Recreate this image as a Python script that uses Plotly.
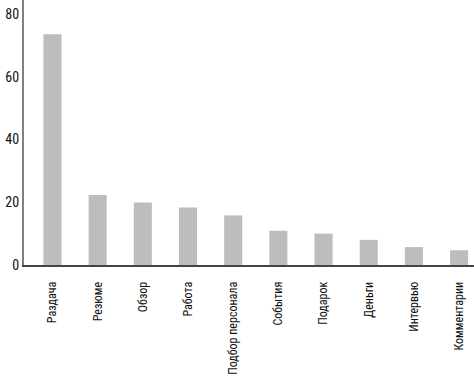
import plotly.graph_objects as go

categories = ["Раздача", "Резюме", "Обзор", "Работа", "Подбор персонала",
              "События", "Подарок", "Деньги", "Интервью", "Комментарии"]
values = [73.5, 22.3, 19.9, 18.3, 15.8, 10.9, 10.0, 8.0, 5.7, 4.7]
y_ticks = [0, 20, 40, 60, 80]

font_family = "Roboto Condensed"

fig = go.Figure(go.Bar(
    x=categories, y=values, width=0.4,
    marker=dict(color="#bdbdbd", line=dict(width=0)),
))

fig.update_layout(
    template="none",
    width=474, height=379,
    margin=dict(l=24, r=0, t=0, b=114, autoexpand=False),
    plot_bgcolor="white", paper_bgcolor="white",
    showlegend=False,
    font=dict(family=font_family, size=13, color="#111111"),
)
fig.update_xaxes(
    range=[-0.63, 9.33],
    showline=True, linecolor="#444444", linewidth=2,
    showgrid=False, zeroline=False, ticks="", tickangle=-90,
    ticklabelstandoff=10,
    tickfont=dict(family=font_family, size=12, color="#111111"),
)
fig.update_yaxes(
    range=[0, 84.4],
    tickvals=y_ticks,
    showline=True, linecolor="#808080", linewidth=2,
    showgrid=False, zeroline=False, ticks="",
    ticklabelstandoff=0,
    tickfont=dict(family=font_family, size=14, color="#111111"),
)

fig.write_html("out.html")
